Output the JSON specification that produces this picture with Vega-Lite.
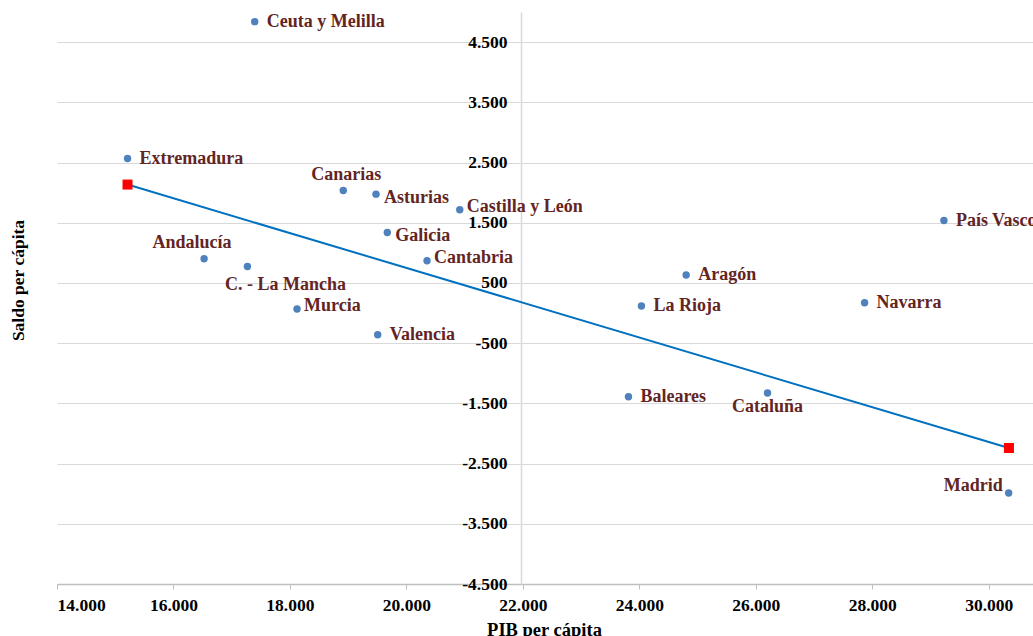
{
  "$schema": "https://vega.github.io/schema/vega-lite/v6.json",
  "autosize": {"type": "none"},
  "padding": {"left": 57, "top": 12, "right": 0, "bottom": 52},
  "width": 976,
  "height": 572,
  "background": "white",
  "config": {
    "view": {"stroke": null},
    "font": "Liberation Serif"
  },
  "datasets": {
    "regions": [
      {"region": "Ceuta y Melilla", "pib": 17395, "saldo": 4840},
      {"region": "Extremadura", "pib": 15211, "saldo": 2566},
      {"region": "Canarias", "pib": 18916, "saldo": 2035},
      {"region": "Asturias", "pib": 19478, "saldo": 1975},
      {"region": "Castilla y León", "pib": 20916, "saldo": 1715},
      {"region": "Galicia", "pib": 19672, "saldo": 1338},
      {"region": "Andalucía", "pib": 16526, "saldo": 901},
      {"region": "C. - La Mancha", "pib": 17270, "saldo": 774},
      {"region": "Cantabria", "pib": 20354, "saldo": 868},
      {"region": "Murcia", "pib": 18122, "saldo": 66},
      {"region": "Valencia", "pib": 19507, "saldo": -360},
      {"region": "País Vasco", "pib": 29230, "saldo": 1537},
      {"region": "Aragón", "pib": 24804, "saldo": 631},
      {"region": "La Rioja", "pib": 24036, "saldo": 116},
      {"region": "Navarra", "pib": 27868, "saldo": 171},
      {"region": "Baleares", "pib": 23813, "saldo": -1389},
      {"region": "Cataluña", "pib": 26201, "saldo": -1328},
      {"region": "Madrid", "pib": 30342, "saldo": -2988}
    ],
    "trend": [
      {"pib": 15211, "saldo": 2134},
      {"pib": 30347, "saldo": -2241}
    ]
  },
  "layer": [
    {
      "data": {"name": "regions"},
      "mark": {"type": "point", "opacity": 0},
      "encoding": {
        "x": {
          "field": "pib", "type": "quantitative",
          "scale": {"domain": [14000, 30760], "nice": false, "zero": false},
          "axis": {
            "title": "PIB per cápita",
            "values": [14000, 16000, 18000, 20000, 22000, 24000, 26000, 28000, 30000],
            "labelExpr": "(datum.value<0?'-':'') + replace(format(abs(datum.value), ','), ',', '.')",
            "grid": false,
            "domainColor": "#BFBFBF", "domainWidth": 1.5,
            "tickColor": "#BFBFBF", "tickSize": 5, "tickWidth": 1,
            "labelFont": "Liberation Serif", "labelFontWeight": "bold", "labelFontSize": 17.5, "labelColor": "#000000",
            "labelPadding": 7,
            "titleFont": "Liberation Serif", "titleFontWeight": "bold", "titleFontSize": 18.5, "titleColor": "#000000",
            "titleBaseline": "alphabetic", "titleY": 51, "titleX": 487
          }
        },
        "y": {
          "field": "saldo", "type": "quantitative",
          "scale": {"domain": [-4500, 5000], "nice": false, "zero": false},
          "axis": {
            "title": "Saldo per cápita",
            "values": [-4500, -3500, -2500, -1500, -500, 500, 1500, 2500, 3500, 4500],
            "labelExpr": "(datum.value<0?'-':'') + replace(format(abs(datum.value), ','), ',', '.')",
            "offset": -464,
            "grid": true, "gridColor": "#D9D9D9", "gridWidth": 1,
            "domain": true, "domainColor": "#D9D9D9", "domainWidth": 1.5,
            "ticks": false,
            "labelFont": "Liberation Serif", "labelFontWeight": "bold", "labelFontSize": 17.5, "labelColor": "#000000",
            "labelPadding": 14,
            "titleFont": "Liberation Serif", "titleFontWeight": "bold", "titleFontSize": 17.5, "titleColor": "#000000",
            "titleX": -503, "titleY": 268, "titleAngle": -90, "titleAlign": "center", "titleBaseline": "middle"
          }
        }
      }
    },
    {
      "mark": {"type": "rule", "color": "#BFBFBF", "strokeWidth": 1.5},
      "encoding": {"y": {"datum": 5000}}
    },
    {
      "mark": {"type": "rule", "color": "#BFBFBF", "strokeWidth": 1.5},
      "encoding": {"x": {"datum": 14000}}
    },
    {
      "mark": {"type": "rule", "color": "#A6A6A6", "strokeWidth": 1.5},
      "encoding": {"y": {"datum": 0}}
    },
    {
      "data": {"name": "trend"},
      "mark": {"type": "line", "color": "#0070C0", "strokeWidth": 2},
      "encoding": {
        "x": {"field": "pib", "type": "quantitative"},
        "y": {"field": "saldo", "type": "quantitative"}
      }
    },
    {
      "data": {"name": "trend"},
      "mark": {"type": "point", "shape": "square", "filled": true, "color": "#FF0000", "size": 100, "opacity": 1},
      "encoding": {
        "x": {"field": "pib", "type": "quantitative"},
        "y": {"field": "saldo", "type": "quantitative"}
      }
    },
    {
      "data": {"name": "regions"},
      "mark": {"type": "circle", "color": "#4F81BD", "size": 55, "opacity": 1},
      "encoding": {
        "x": {"field": "pib", "type": "quantitative"},
        "y": {"field": "saldo", "type": "quantitative"}
      }
    },
    {
      "data": {"name": "regions"},
      "transform": [{"filter": {"field": "region", "oneOf": ["Ceuta y Melilla", "Extremadura", "País Vasco", "Aragón", "La Rioja", "Navarra", "Valencia", "Baleares"]}}],
      "mark": {"type": "text", "align": "left", "baseline": "middle", "dx": 12, "dy": 0, "font": "Liberation Serif", "fontWeight": "bold", "fontSize": 18, "color": "#632523"},
      "encoding": {
        "x": {"field": "pib", "type": "quantitative"},
        "y": {"field": "saldo", "type": "quantitative"},
        "text": {"field": "region"}
      }
    },
    {
      "data": {"name": "regions"},
      "transform": [{"filter": {"field": "region", "oneOf": ["Asturias", "Galicia"]}}],
      "mark": {"type": "text", "align": "left", "baseline": "middle", "dx": 8, "dy": 4, "font": "Liberation Serif", "fontWeight": "bold", "fontSize": 18, "color": "#632523"},
      "encoding": {
        "x": {"field": "pib", "type": "quantitative"},
        "y": {"field": "saldo", "type": "quantitative"},
        "text": {"field": "region"}
      }
    },
    {
      "data": {"name": "regions"},
      "transform": [{"filter": {"field": "region", "oneOf": ["Cantabria", "Murcia", "Castilla y León"]}}],
      "mark": {"type": "text", "align": "left", "baseline": "middle", "dx": 7, "dy": -3, "font": "Liberation Serif", "fontWeight": "bold", "fontSize": 18, "color": "#632523"},
      "encoding": {
        "x": {"field": "pib", "type": "quantitative"},
        "y": {"field": "saldo", "type": "quantitative"},
        "text": {"field": "region"}
      }
    },
    {
      "data": {"name": "regions"},
      "transform": [{"filter": {"field": "region", "equal": "Canarias"}}],
      "mark": {"type": "text", "align": "center", "baseline": "middle", "dx": 3, "dy": -16, "font": "Liberation Serif", "fontWeight": "bold", "fontSize": 18, "color": "#632523"},
      "encoding": {
        "x": {"field": "pib", "type": "quantitative"},
        "y": {"field": "saldo", "type": "quantitative"},
        "text": {"field": "region"}
      }
    },
    {
      "data": {"name": "regions"},
      "transform": [{"filter": {"field": "region", "equal": "Andalucía"}}],
      "mark": {"type": "text", "align": "center", "baseline": "middle", "dx": -12, "dy": -16, "font": "Liberation Serif", "fontWeight": "bold", "fontSize": 18, "color": "#632523"},
      "encoding": {
        "x": {"field": "pib", "type": "quantitative"},
        "y": {"field": "saldo", "type": "quantitative"},
        "text": {"field": "region"}
      }
    },
    {
      "data": {"name": "regions"},
      "transform": [{"filter": {"field": "region", "equal": "C. - La Mancha"}}],
      "mark": {"type": "text", "align": "center", "baseline": "middle", "dx": 38, "dy": 19, "font": "Liberation Serif", "fontWeight": "bold", "fontSize": 18, "color": "#632523"},
      "encoding": {
        "x": {"field": "pib", "type": "quantitative"},
        "y": {"field": "saldo", "type": "quantitative"},
        "text": {"field": "region"}
      }
    },
    {
      "data": {"name": "regions"},
      "transform": [{"filter": {"field": "region", "equal": "Cataluña"}}],
      "mark": {"type": "text", "align": "center", "baseline": "middle", "dx": 0, "dy": 14, "font": "Liberation Serif", "fontWeight": "bold", "fontSize": 18, "color": "#632523"},
      "encoding": {
        "x": {"field": "pib", "type": "quantitative"},
        "y": {"field": "saldo", "type": "quantitative"},
        "text": {"field": "region"}
      }
    },
    {
      "data": {"name": "regions"},
      "transform": [{"filter": {"field": "region", "equal": "Madrid"}}],
      "mark": {"type": "text", "align": "right", "baseline": "middle", "dx": -6, "dy": -7, "font": "Liberation Serif", "fontWeight": "bold", "fontSize": 18, "color": "#632523"},
      "encoding": {
        "x": {"field": "pib", "type": "quantitative"},
        "y": {"field": "saldo", "type": "quantitative"},
        "text": {"field": "region"}
      }
    }
  ]
}
